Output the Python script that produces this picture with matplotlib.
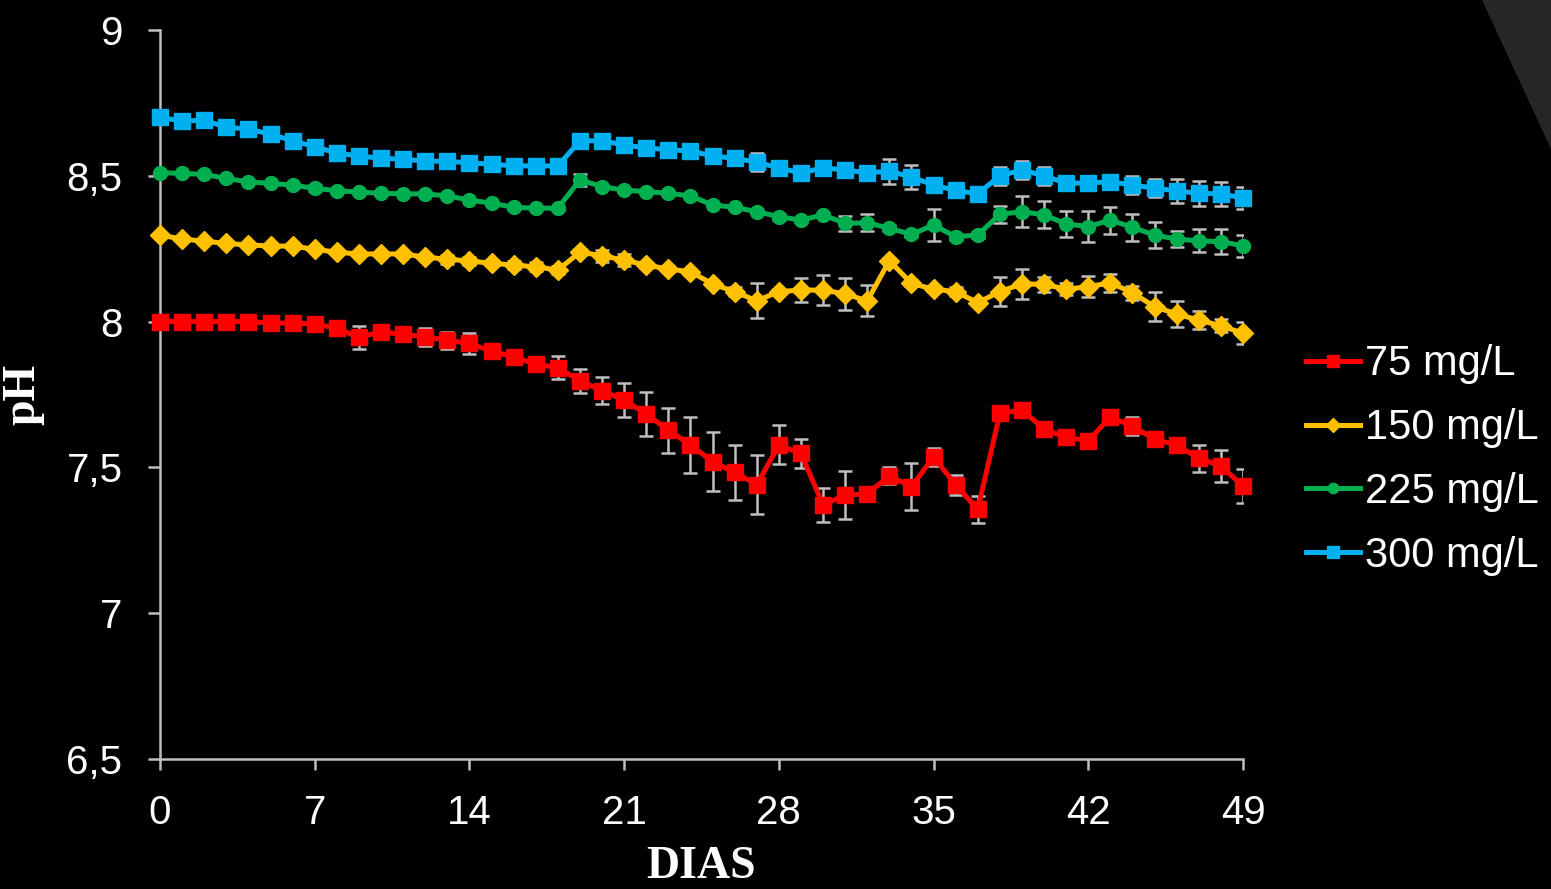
import numpy as np
import matplotlib
matplotlib.use("Agg")
import matplotlib.pyplot as plt
from matplotlib.patches import Polygon

days = np.arange(0, 50)

ph_75 = [8.00, 8.00, 8.00, 8.00, 8.00, 7.995, 7.995, 7.992, 7.977, 7.946,
         7.965, 7.956, 7.948, 7.936, 7.925, 7.899, 7.879, 7.854, 7.842, 7.797,
         7.763, 7.731, 7.683, 7.628, 7.577, 7.52, 7.483, 7.44, 7.577, 7.548,
         7.371, 7.405, 7.409, 7.471, 7.434, 7.536, 7.44, 7.356, 7.685, 7.697,
         7.631, 7.603, 7.592, 7.672, 7.642, 7.596, 7.577, 7.531, 7.505, 7.436]
err_75 = [0.005, 0.005, 0.005, 0.005, 0.005, 0.005, 0.005, 0.005, 0.01, 0.04,
          0.01, 0.01, 0.031, 0.03, 0.035, 0.01, 0.01, 0.015, 0.039, 0.042,
          0.046, 0.057, 0.074, 0.077, 0.097, 0.101, 0.095, 0.101, 0.067, 0.049,
          0.059, 0.083, 0.01, 0.029, 0.08, 0.031, 0.033, 0.046, 0.02, 0.01,
          0.01, 0.01, 0.01, 0.01, 0.03, 0.015, 0.025, 0.046, 0.054, 0.058]

ph_150 = [8.297, 8.283, 8.276, 8.268, 8.263, 8.259, 8.259, 8.248, 8.238, 8.232,
          8.232, 8.232, 8.221, 8.214, 8.208, 8.20, 8.194, 8.188, 8.177, 8.238,
          8.226, 8.211, 8.194, 8.18, 8.171, 8.129, 8.103, 8.071, 8.103, 8.108,
          8.108, 8.095, 8.071, 8.209, 8.131, 8.111, 8.103, 8.065, 8.103, 8.129,
          8.128, 8.111, 8.12, 8.133, 8.099, 8.051, 8.026, 8.005, 7.986, 7.96]
err_150 = [0.005, 0.005, 0.005, 0.005, 0.005, 0.005, 0.005, 0.005, 0.005, 0.005,
           0.005, 0.005, 0.01, 0.015, 0.015, 0.01, 0.015, 0.015, 0.015, 0.01,
           0.02, 0.02, 0.01, 0.01, 0.01, 0.01, 0.015, 0.06, 0.01, 0.04,
           0.051, 0.055, 0.053, 0.01, 0.01, 0.01, 0.015, 0.01, 0.051, 0.051,
           0.026, 0.021, 0.037, 0.031, 0.024, 0.05, 0.046, 0.031, 0.023, 0.038]

ph_225 = [8.511, 8.508, 8.505, 8.491, 8.479, 8.474, 8.468, 8.457, 8.449, 8.444,
          8.44, 8.438, 8.438, 8.431, 8.417, 8.406, 8.392, 8.389, 8.389, 8.486,
          8.463, 8.451, 8.446, 8.44, 8.431, 8.40, 8.392, 8.377, 8.36, 8.348,
          8.366, 8.337, 8.339, 8.32, 8.299, 8.331, 8.291, 8.297, 8.368, 8.377,
          8.366, 8.335, 8.326, 8.348, 8.323, 8.297, 8.283, 8.277, 8.274, 8.26]
err_225 = [0.005, 0.005, 0.005, 0.005, 0.005, 0.005, 0.005, 0.01, 0.005, 0.005,
           0.005, 0.005, 0.005, 0.005, 0.005, 0.005, 0.005, 0.005, 0.005, 0.02,
           0.005, 0.005, 0.005, 0.005, 0.005, 0.005, 0.005, 0.005, 0.01, 0.005,
           0.005, 0.025, 0.029, 0.01, 0.01, 0.055, 0.01, 0.01, 0.03, 0.054,
           0.046, 0.044, 0.052, 0.046, 0.045, 0.046, 0.027, 0.04, 0.043, 0.038]

ph_300 = [8.70, 8.688, 8.69, 8.667, 8.66, 8.643, 8.62, 8.60, 8.578, 8.568,
          8.56, 8.557, 8.55, 8.55, 8.544, 8.54, 8.534, 8.534, 8.534, 8.62,
          8.62, 8.606, 8.595, 8.59, 8.585, 8.568, 8.56, 8.547, 8.527, 8.51,
          8.527, 8.52, 8.51, 8.516, 8.496, 8.468, 8.45, 8.438, 8.50, 8.52,
          8.50, 8.475, 8.475, 8.48, 8.468, 8.458, 8.448, 8.44, 8.438, 8.424]
err_300 = [0.005, 0.005, 0.005, 0.005, 0.005, 0.005, 0.005, 0.005, 0.005, 0.005,
           0.005, 0.005, 0.005, 0.005, 0.005, 0.005, 0.005, 0.005, 0.005, 0.005,
           0.005, 0.005, 0.005, 0.005, 0.005, 0.005, 0.005, 0.031, 0.005, 0.005,
           0.005, 0.005, 0.005, 0.043, 0.04, 0.005, 0.005, 0.005, 0.03, 0.03,
           0.03, 0.005, 0.005, 0.01, 0.031, 0.031, 0.04, 0.042, 0.04, 0.039]

labels = ["75 mg/L", "150 mg/L", "225 mg/L", "300 mg/L"]
colors = ["#FF0000", "#FFC000", "#00B050", "#00B0F0"]
markers = ["s", "D", "o", "s"]
msizes = [11, 10, 10, 12]

x_ticks = [0, 7, 14, 21, 28, 35, 42, 49]
y_ticks = [6.5, 7, 7.5, 8, 8.5, 9]
y_ticklabels = ["6,5", "7", "7,5", "8", "8,5", "9"]

plt.rcParams['font.family'] = ['Liberation Sans', 'DejaVu Sans']

fig = plt.figure(figsize=(15.51, 8.89), dpi=100, facecolor="black")
ax = fig.add_axes([160 / 1551, 1 - 759 / 889, (1243 - 160) / 1551, (759 - 30) / 889])
ax.set_facecolor("black")

# gray wedge in the upper right corner (slide decoration)
fig.patches.append(Polygon([[1482 / 1551, 1], [1, 1], [1, 1 - 149 / 889]],
                           closed=True, transform=fig.transFigure,
                           facecolor="#262626", edgecolor="none", zorder=0))

series = [(ph_75, err_75), (ph_150, err_150), (ph_225, err_225), (ph_300, err_300)]
for (vals, errs), lab, col, mk, ms in zip(series, labels, colors, markers, msizes):
    ax.errorbar(days, vals, yerr=errs, fmt="none", ecolor="#BFBFBF",
                elinewidth=1.8, capsize=5, capthick=1.8, zorder=2)
    ax.plot(days, vals, color=col, linewidth=3.6, marker=mk, markersize=ms,
            label=lab, zorder=3, clip_on=False)

ax.set_xlim(0, 49)
ax.set_ylim(6.5, 9)
ax.set_xticks(x_ticks)
ax.set_yticks(y_ticks)
ax.set_yticklabels(y_ticklabels)

for side in ["top", "right"]:
    ax.spines[side].set_visible(False)
for side in ["left", "bottom"]:
    ax.spines[side].set_color("#BFBFBF")
    ax.spines[side].set_linewidth(1.8)

ax.tick_params(axis="x", colors="white", labelsize=29, length=8, width=1.8,
               color="#BFBFBF", pad=17)
ax.tick_params(axis="y", colors="white", labelsize=29, length=9, width=1.8,
               color="#BFBFBF", pad=18)

ax.set_xlabel("DIAS", family="Liberation Serif", fontweight="bold",
              fontsize=33, color="white", labelpad=10)
ax.set_ylabel("pH", family="Liberation Serif", fontweight="bold",
              fontsize=33, color="white", labelpad=16)

leg = ax.legend(loc="center left", bbox_to_anchor=(1306 / 1551, 1 - 460 / 889),
                bbox_transform=fig.transFigure, frameon=False, fontsize=30,
                handlelength=1.3, handletextpad=0.11, labelspacing=0.57,
                borderpad=0, borderaxespad=0, markerscale=0.75)
for t in leg.get_texts():
    t.set_color("white")

fig.savefig("out.png", dpi=100, facecolor="black")
